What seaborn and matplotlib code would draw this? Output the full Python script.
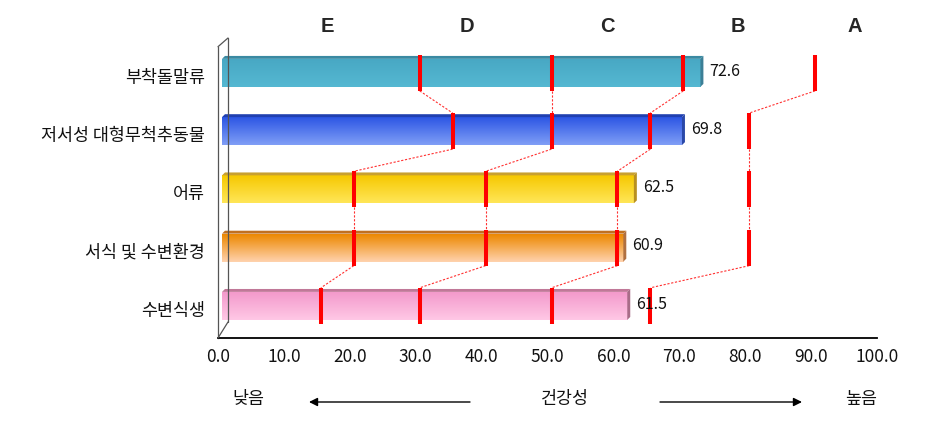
import numpy as np
import pandas as pd
import matplotlib
matplotlib.use("Agg")
import matplotlib.pyplot as plt
import matplotlib.transforms as mtransforms
from matplotlib.lines import Line2D
from matplotlib.patches import Polygon
import seaborn as sns

# ---------------- data ----------------
categories = ["부착돌말류", "저서성 대형무척추동물", "어류", "서식 및 수변환경", "수변식생"]
scores = [72.6, 69.8, 62.5, 60.9, 61.5]
# grade boundaries (E|D, D|C, C|B, B|A) for each category
boundaries = [
    [30, 50, 70, 90],
    [35, 50, 65, 80],
    [20, 40, 60, 80],
    [20, 40, 60, 80],
    [15, 30, 50, 65],
]
grades = ["E", "D", "C", "B", "A"]
xticks = [0, 10, 20, 30, 40, 50, 60, 70, 80, 90, 100]
low_label, mid_label, high_label = "낮음", "건강성", "높음"

# ---------------- style ----------------
grad_top = ["#48A8C4", "#2C56E4", "#F6C800", "#EC8800", "#F39ACB"]
grad_bot = ["#55B8D2", "#809EF6", "#FFE658", "#FFD2AE", "#FFC8E6"]
top_face = ["#3A8AA2", "#2040B0", "#C8A030", "#C07020", "#C07898"]
side_face = ["#3C7F96", "#2A48A8", "#B89020", "#B07040", "#A86C88"]

sns.set_style("white")
plt.rcParams["font.family"] = ["Noto Sans CJK KR", "DejaVu Sans"]

W, H = 946, 443
fig = plt.figure(figsize=(W / 100, H / 100), dpi=100)
ax_left, ax_right, ax_top, ax_bot = 218, 877, 46.7, 338
ax = fig.add_axes([ax_left / W, 1 - ax_bot / H, (ax_right - ax_left) / W, (ax_bot - ax_top) / H])

df = pd.DataFrame({"category": categories, "score": scores})
sns.barplot(data=df, x="score", y="category", hue="category", order=categories,
            hue_order=categories, palette=grad_top, orient="h", width=0.48,
            saturation=1, legend=False, ax=ax)

# 3D-like offset of the bar front faces (4 px right, 3 px up)
shift = mtransforms.offset_copy(ax.transData, fig=fig, x=4, y=3, units="dots")
ddx, ddy = 0.45, 0.05  # depth of the top/side faces in data units

for p in list(ax.patches):
    w = p.get_width()
    yc = p.get_y() + p.get_height() / 2
    i = int(round(yc))
    h = p.get_height()
    top, bot = yc - h / 2, yc + h / 2
    p.set_transform(shift)
    p.set_edgecolor("none")
    p.set_zorder(2)
    c0 = np.array(matplotlib.colors.to_rgb(grad_top[i]))
    c1 = np.array(matplotlib.colors.to_rgb(grad_bot[i]))
    t = np.linspace(0, 1, 64)[:, None]
    img = (c0 * (1 - t) + c1 * t)[:, None, :]
    im = ax.imshow(img, extent=[0, w, bot, top], origin="upper", aspect="auto",
                   interpolation="bilinear", transform=shift, zorder=2.5)
    im.set_clip_path(p)
    # top face
    ax.add_patch(Polygon([(0, top), (w, top), (w + ddx, top - ddy), (ddx, top - ddy)],
                         closed=True, facecolor=top_face[i], edgecolor="none",
                         transform=shift, zorder=3))
    # right side face
    ax.add_patch(Polygon([(w, top), (w + ddx, top - ddy), (w + ddx, bot - ddy), (w, bot)],
                         closed=True, facecolor=side_face[i], edgecolor="none",
                         transform=shift, zorder=3))
    # value label
    ax.text(w + 1.4, yc - 0.03, f"{scores[i]}", transform=shift, va="center", ha="left",
            fontsize=11.5, color="#111111", zorder=6)

# red grade markers and dashed connectors
mh = 0.31
for r, bnds in enumerate(boundaries):
    ax.vlines(bnds, r - mh, r + mh, colors="#FF0000", linewidth=2.9,
              transform=shift, zorder=5)
    if r + 1 < len(boundaries):
        for j, xb in enumerate(bnds):
            ax.plot([xb, boundaries[r + 1][j]], [r + mh, r + 1 - mh], color="#FF3030",
                    linewidth=0.8, linestyle=(0, (2, 1.5)), transform=shift, zorder=4)

# axes styling
ax.set_xlim(0, 100)
ax.set_ylim(len(categories) - 0.5, -0.5)
ax.set_xticks(xticks)
ax.set_xticklabels([f"{v:.1f}" for v in xticks], fontsize=12.5, color="#111111")
ax.set_yticks(range(len(categories)))
ax.set_yticklabels(categories, fontsize=12.5, color="#111111")
ax.set_yticks(np.arange(-0.5, len(categories), 1.0), minor=True)
ax.tick_params(axis="y", which="major", length=0, pad=9.5)
ax.tick_params(axis="y", which="minor", direction="in", length=6, width=0.8, color="#333333")
ax.tick_params(axis="x", direction="in", length=6, width=0.9, color="black", pad=7)
ax.set_xlabel("")
ax.set_ylabel("")
for s in ["top", "right"]:
    ax.spines[s].set_visible(False)
ax.spines["bottom"].set_color("black")
ax.spines["bottom"].set_linewidth(1.3)
ax.spines["left"].set_color("#555555")
ax.spines["left"].set_linewidth(0.9)
ax.grid(False)


def fpx(x, y):
    return x / W, 1 - y / H


# left "wall"
for (x0, y0), (x1, y1) in [((228, 38), (228, 322)), ((218, 46.7), (228, 38)),
                           ((228, 322), (218, 338))]:
    a, b = fpx(x0, y0)
    c, d = fpx(x1, y1)
    fig.add_artist(Line2D([a, c], [b, d], color="#555555", linewidth=0.9))

# grade letters
for g, xp in zip(grades, [327, 467, 607, 738, 855]):
    fx, fy = fpx(xp, 26)
    fig.text(fx, fy, g, ha="center", va="center", fontsize=14.5, fontweight="bold",
             family=["Liberation Sans", "DejaVu Sans"])

# bottom annotation
for txt, xp in [(low_label, 248), (mid_label, 565), (high_label, 861)]:
    fx, fy = fpx(xp, 399)
    fig.text(fx, fy, txt, ha="center", va="center", fontsize=12.5, color="#111111")
for (xt, xh) in [(470, 309), (660, 802)]:
    fig.add_artist(matplotlib.patches.FancyArrowPatch(
        fpx(xt, 402), fpx(xh, 402), transform=fig.transFigure,
        arrowstyle="-|>,head_length=5,head_width=2.5", color="black", linewidth=1,
        shrinkA=0, shrinkB=0))

fig.savefig("out.png", dpi=100)
